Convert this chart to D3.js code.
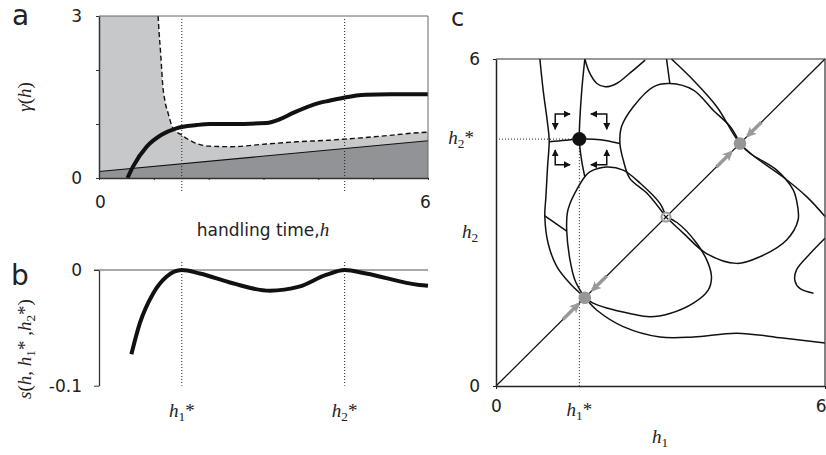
<!DOCTYPE html>
<html>
<head>
<meta charset="utf-8">
<script src="https://cdn.jsdelivr.net/npm/d3@7"></script>
<style>
  body { margin: 0; background: #fff; }
  text { font-family: "DejaVu Sans", sans-serif; fill: #222; }
  .math { font-family: "Liberation Serif", serif; }
</style>
</head>
<body>
<svg id="fig" width="826" height="455"></svg>
<script>
// ---------- panel a : gamma(h) ----------
const gammaH    = [0.52, 0.62, 0.87, 1.14, 1.41, 1.78, 2.02, 2.44, 3.05, 3.30, 3.53, 4.02, 4.20, 4.48, 4.87, 5.30, 6.00];
const gammaVals = [0.00, 0.21, 0.58, 0.80, 0.92, 0.98, 1.00, 1.00, 1.02, 1.09, 1.20, 1.39, 1.43, 1.49, 1.54, 1.55, 1.55];

const dashH    = [1.078, 1.097, 1.12, 1.14, 1.16, 1.20, 1.26, 1.35, 1.50, 1.71, 2.00, 2.40, 3.05, 3.60, 4.20, 4.48, 5.20, 5.84, 6.00];
const dashVals = [3.00, 2.68, 2.37, 2.06, 1.75, 1.44, 1.20, 0.92, 0.80, 0.67, 0.59, 0.58, 0.63, 0.67, 0.70, 0.72, 0.78, 0.84, 0.85];

const thinH    = [0, 6];
const thinVals = [0.12, 0.69];

const hStarAB = [1.51, 4.48];
const aXTicks = [0, 1, 2, 3, 4, 5, 6];
const aYTicks = [0, 1, 2, 3];
const aTickLabels = { x: [0, 6], y: [0, 3] };

// ---------- panel b : s(h, h1*, h2*) ----------
const sH    = [0.59, 0.745, 0.99, 1.23, 1.51, 1.84, 2.44, 3.11, 3.65, 4.14, 4.48, 4.87, 5.84, 6.00];
const sVals = [-0.0729, -0.046, -0.020, -0.0058, 0, -0.003, -0.0115, -0.0179, -0.0144, -0.0043, 0, -0.003, -0.013, -0.0137];
const bYTicks = [0, -0.1];

// ---------- panel c : isoclines in (h1, h2) ----------
const hStarC = [1.52, 4.53];
const cTicks = [0, 6];
const diagonal = [[0, 0], [6, 6]];
const isoLeft = [[0.80, 6.0], [0.86, 5.43], [0.94, 4.82], [0.97, 4.51], [0.94, 4.02], [0.91, 3.47], [0.89, 3.12],
  [0.95, 2.62], [1.11, 2.19], [1.35, 1.88], [1.62, 1.62], [1.84, 1.39], [2.32, 1.09], [2.99, 0.90],
  [3.60, 0.90], [4.39, 0.97], [5.23, 0.88], [6.0, 0.79]];
const isoLink = [[0.89, 3.12], [1.29, 2.84]];
const lobeUL = [[3.1, 3.1], [2.99, 3.35], [2.63, 3.72], [2.32, 3.96], [2.02, 4.02], [1.71, 3.93], [1.62, 3.84],
  [1.47, 3.60], [1.35, 3.35], [1.30, 3.17], [1.29, 2.84], [1.35, 2.31], [1.44, 1.94], [1.62, 1.62]];
const lobeLR = [[3.1, 3.1], [3.30, 3.0], [3.66, 2.62], [3.87, 2.25], [3.93, 1.98], [3.87, 1.76], [3.60, 1.52],
  [3.17, 1.33], [2.81, 1.27], [2.44, 1.33], [2.02, 1.43], [1.77, 1.52], [1.62, 1.62]];
const lobeTop = [[3.1, 3.1], [2.75, 3.54], [2.44, 3.81], [2.32, 4.15], [2.26, 4.45], [2.29, 4.76], [2.50, 5.12],
  [2.87, 5.49], [3.17, 5.55], [3.60, 5.43], [3.96, 5.06], [4.27, 4.76], [4.45, 4.45]];
const lobeRight = [[3.1, 3.1], [3.42, 2.80], [3.84, 2.43], [4.39, 2.25], [4.81, 2.37], [5.30, 2.68], [5.51, 3.05],
  [5.48, 3.41], [5.42, 3.60], [5.12, 3.96], [4.63, 4.27], [4.45, 4.45]];
const curveP = [[3.20, 6.0], [3.60, 5.61], [4.03, 5.12], [4.32, 4.64], [4.45, 4.45], [4.70, 4.22], [5.23, 3.84], [5.67, 3.47], [6.0, 3.11]];
const stemTop = [[3.11, 6.0], [3.17, 5.55]];
const stemV = [[1.62, 6.0], [1.56, 5.37], [1.52, 4.53], [1.56, 4.15], [1.62, 3.84]];
const stemH = [[0.97, 4.48], [1.26, 4.51], [1.52, 4.53], [1.90, 4.52], [2.26, 4.45]];
const dipTop = [[1.62, 6.0], [1.71, 5.74], [1.84, 5.55], [1.99, 5.49], [2.20, 5.55], [2.44, 5.74], [2.72, 5.98]];
const arcRight = [[6.0, 2.71], [5.73, 2.43], [5.48, 2.13], [5.45, 1.94], [5.54, 1.79], [5.79, 1.70]];
const isoclines = [isoLeft, isoLink, lobeUL, lobeLR, lobeTop, lobeRight, curveP, stemTop, stemV, stemH, dipTop, arcRight];

const grayDots = [1.62, 4.45];      // singular points on the diagonal
const saddle = 3.1;                  // repelling point on the diagonal
const diagArrows = [[1.22, 1.50], [2.02, 1.76], [4.02, 4.29], [4.84, 4.59]];
const bentArrows = [
  [[1.35, 4.99], [1.08, 4.99], [1.08, 4.71]],
  [[1.73, 4.99], [2.02, 4.99], [2.02, 4.71]],
  [[1.08, 4.33], [1.08, 4.06], [1.35, 4.06]],
  [[2.02, 4.33], [2.02, 4.06], [1.73, 4.06]]
];

const svg = d3.select('#fig');
svg.append('rect').attr('width', 826).attr('height', 455).attr('fill', '#fff');

// 数学标签: parts = [{t, it, sub}]
function mathText(sel, parts, size) {
  parts.forEach(p => {
    const ts = sel.append('tspan').attr('class', 'math').text(p.t);
    if (p.it) ts.style('font-style', 'italic').style('font-size', size + 'px');
    else if (p.sub) ts.style('font-size', (size * 0.7) + 'px').attr('dy', 4);
    else ts.style('font-size', size + 'px');
    if (p.after) ts.attr('dy', p.after);
  });
  return sel;
}
const hSub = (n) => [{ t: 'h', it: true }, { t: n, sub: true }, { t: '*', after: -4 }];

// markers
const defs = svg.append('defs');
defs.append('marker').attr('id', 'headGray').attr('viewBox', '0 0 10 10').attr('refX', 8).attr('refY', 5)
  .attr('markerWidth', 12).attr('markerHeight', 10).attr('markerUnits', 'userSpaceOnUse').attr('orient', 'auto')
  .append('path').attr('d', 'M0,0L10,5L0,10L2.5,5Z').attr('fill', '#999');
defs.append('marker').attr('id', 'headBlack').attr('viewBox', '0 0 10 10').attr('refX', 9).attr('refY', 5)
  .attr('markerWidth', 7).attr('markerHeight', 7).attr('markerUnits', 'userSpaceOnUse').attr('orient', 'auto-start-reverse')
  .append('path').attr('d', 'M0,0L10,5L0,10Z').attr('fill', '#111');

// ================= panel a =================
const xA = d3.scaleLinear().domain([0, 6]).range([99, 428]);
const yA = d3.scaleLinear().domain([0, 3]).range([178, 16]);
const pa = svg.append('g');

defs.append('clipPath').attr('id', 'clipA').append('rect')
  .attr('x', xA(0)).attr('y', yA(3)).attr('width', xA(6) - xA(0)).attr('height', yA(0) - yA(3));
const plotA = pa.append('g').attr('clip-path', 'url(#clipA)');

const lightData = [[0, 3]].concat(dashH.map((h, i) => [h, dashVals[i]]));
plotA.append('path').datum(lightData)
  .attr('d', d3.area().x(d => xA(d[0])).y0(yA(0)).y1(d => yA(d[1])).curve(d3.curveMonotoneX))
  .attr('fill', '#c7c8ca');

const thinData = thinH.map((h, i) => [h, thinVals[i]]);
plotA.append('path').datum(thinData)
  .attr('d', d3.area().x(d => xA(d[0])).y0(yA(0)).y1(d => yA(d[1])))
  .attr('fill', '#929396');
plotA.append('path').datum(thinData)
  .attr('d', d3.line().x(d => xA(d[0])).y(d => yA(d[1])))
  .attr('fill', 'none').attr('stroke', '#111').attr('stroke-width', 1.2);

plotA.append('path').datum(dashH.map((h, i) => [h, dashVals[i]]))
  .attr('d', d3.line().x(d => xA(d[0])).y(d => yA(d[1])).curve(d3.curveMonotoneX))
  .attr('fill', 'none').attr('stroke', '#111').attr('stroke-width', 1.4).attr('stroke-dasharray', '5,3');

// dotted verticals
pa.selectAll('.vA').data(hStarAB).enter().append('line')
  .attr('x1', d => xA(d)).attr('x2', d => xA(d)).attr('y1', yA(3) + 3).attr('y2', yA(0) + 15)
  .attr('stroke', '#222').attr('stroke-width', 1).attr('stroke-dasharray', '1,2');

plotA.append('path').datum(gammaH.map((h, i) => [h, gammaVals[i]]))
  .attr('d', d3.line().x(d => xA(d[0])).y(d => yA(d[1])).curve(d3.curveMonotoneX))
  .attr('fill', 'none').attr('stroke', '#111').attr('stroke-width', 4);

// frame
pa.append('path').attr('d', `M${xA(0)},${yA(3)}H${xA(6)}V${yA(0)}`)
  .attr('fill', 'none').attr('stroke', '#666').attr('stroke-width', 1);

const axA = pa.append('g').attr('transform', `translate(0,${yA(0)})`)
  .call(d3.axisBottom(xA).tickValues(aXTicks).tickSize(2).tickSizeOuter(0).tickPadding(16)
    .tickFormat(d => aTickLabels.x.includes(d) ? d : ''));
const ayA = pa.append('g').attr('transform', `translate(${xA(0)},0)`)
  .call(d3.axisLeft(yA).tickValues(aYTicks).tickSize(3).tickSizeOuter(0).tickPadding(14)
    .tickFormat(d => aTickLabels.y.includes(d) ? d : ''));
[axA, ayA].forEach(g => {
  g.select('.domain').attr('stroke', '#333').attr('stroke-width', 1.5);
  g.selectAll('.tick line').attr('stroke', '#333');
  g.selectAll('.tick text').style('font-family', '"DejaVu Sans", sans-serif').style('font-size', '17px').attr('fill', '#222');
});
axA.selectAll('.tick text').attr('dx', d => d === 6 ? -3 : 1);

pa.append('text').attr('x', 263).attr('y', 236).attr('text-anchor', 'middle').style('font-size', '17px')
  .call(s => { s.append('tspan').text('handling time,'); s.append('tspan').attr('class', 'math').style('font-style', 'italic').style('font-size', '19px').text('h'); });
mathText(pa.append('text').attr('transform', 'translate(31,97) rotate(-90)').attr('text-anchor', 'middle'),
  [{ t: 'γ', it: true }, { t: '(' }, { t: 'h', it: true }, { t: ')' }], 19);
pa.append('text').attr('x', 12).attr('y', 25).style('font-size', '28px').text('a');

// ================= panel b =================
const yB = d3.scaleLinear().domain([-0.1, 0]).range([385.7, 270]);
const pb = svg.append('g');

pb.selectAll('.vB').data(hStarAB).enter().append('line')
  .attr('x1', d => xA(d)).attr('x2', d => xA(d)).attr('y1', yB(0) - 8).attr('y2', yB(-0.1))
  .attr('stroke', '#222').attr('stroke-width', 1).attr('stroke-dasharray', '1,2');

pb.append('line').attr('x1', xA(0) - 5).attr('x2', xA(6)).attr('y1', yB(0)).attr('y2', yB(0))
  .attr('stroke', '#555').attr('stroke-width', 1.2);
const ayB = pb.append('g').attr('transform', `translate(${xA(0)},0)`)
  .call(d3.axisLeft(yB).tickValues(bYTicks).tickSize(5).tickSizeOuter(0).tickPadding(12)
    .tickFormat(d => d === 0 ? '0' : '-0.1'));
ayB.select('.domain').attr('stroke', '#333').attr('stroke-width', 1.3);
ayB.selectAll('.tick line').attr('stroke', '#333');
ayB.selectAll('.tick text').style('font-family', '"DejaVu Sans", sans-serif').style('font-size', '17px').attr('fill', '#222');

pb.append('path').datum(sH.map((h, i) => [h, sVals[i]]))
  .attr('d', d3.line().x(d => xA(d[0])).y(d => yB(d[1])).curve(d3.curveMonotoneX))
  .attr('fill', 'none').attr('stroke', '#111').attr('stroke-width', 4);

hStarAB.forEach((h, i) => {
  mathText(pb.append('text').attr('x', xA(h)).attr('y', 416.5).attr('text-anchor', 'middle'), hSub(String(i + 1)), 19);
});
mathText(pb.append('text').attr('transform', 'translate(31,349) rotate(-90)').attr('text-anchor', 'middle'),
  [{ t: 's', it: true }, { t: '(' }, { t: 'h', it: true }, { t: ', ' }].concat(hSub('1'))
    .concat([{ t: ' ,' }]).concat(hSub('2')).concat([{ t: ')' }]), 19);
pb.append('text').attr('x', 11).attr('y', 285).style('font-size', '28px').text('b');

// ================= panel c =================
const xC = d3.scaleLinear().domain([0, 6]).range([496, 825]);
const yC = d3.scaleLinear().domain([0, 6]).range([386, 59]);
const pc = svg.append('g');

// dotted guides to h1*, h2*
pc.append('line').attr('x1', xC(0)).attr('x2', xC(hStarC[0])).attr('y1', yC(hStarC[1])).attr('y2', yC(hStarC[1]))
  .attr('stroke', '#222').attr('stroke-dasharray', '1,2');
pc.append('line').attr('x1', xC(hStarC[0])).attr('x2', xC(hStarC[0])).attr('y1', yC(hStarC[1])).attr('y2', yC(0))
  .attr('stroke', '#222').attr('stroke-dasharray', '1,2');

const isoLine = d3.line().x(d => xC(d[0])).y(d => yC(d[1])).curve(d3.curveCatmullRom.alpha(0.5));
pc.append('path').datum(diagonal).attr('d', d3.line().x(d => xC(d[0])).y(d => yC(d[1])))
  .attr('stroke', '#111').attr('stroke-width', 1.3).attr('fill', 'none');
pc.selectAll('.iso').data(isoclines).enter().append('path')
  .attr('d', isoLine).attr('fill', 'none').attr('stroke', '#111').attr('stroke-width', 1.5);

// frame and axes
pc.append('path').attr('d', `M${xC(0)},${yC(6)}H${xC(6)}V${yC(0)}`)
  .attr('fill', 'none').attr('stroke', '#333').attr('stroke-width', 1.2);
const axC = pc.append('g').attr('transform', `translate(0,${yC(0)})`)
  .call(d3.axisBottom(xC).tickValues(cTicks).tickSize(3).tickSizeOuter(0).tickPadding(11).tickFormat(d3.format('d')));
const ayC = pc.append('g').attr('transform', `translate(${xC(0)},0)`)
  .call(d3.axisLeft(yC).tickValues(cTicks).tickSize(3).tickSizeOuter(0).tickPadding(13).tickFormat(d3.format('d')));
[axC, ayC].forEach(g => {
  g.select('.domain').attr('stroke', '#222').attr('stroke-width', 1.5);
  g.selectAll('.tick line').attr('stroke', '#222');
  g.selectAll('.tick text').style('font-family', '"DejaVu Sans", sans-serif').style('font-size', '17px').attr('fill', '#222');
});
// keep the last "6" inside the page edge
axC.selectAll('.tick text').filter(d => d === 6).attr('text-anchor', 'end').attr('dx', 1);

// gray arrows along the diagonal
pc.selectAll('.garrow').data(diagArrows).enter().append('line')
  .attr('x1', d => xC(d[0])).attr('y1', d => yC(d[0])).attr('x2', d => xC(d[1])).attr('y2', d => yC(d[1]))
  .attr('stroke', '#999').attr('stroke-width', 3.5).attr('marker-end', 'url(#headGray)');

// bent black arrows round the attractor
pc.selectAll('.barrow').data(bentArrows).enter().append('path')
  .attr('d', d => d3.line().x(p => xC(p[0])).y(p => yC(p[1]))(d))
  .attr('fill', 'none').attr('stroke', '#111').attr('stroke-width', 1.5)
  .attr('marker-start', 'url(#headBlack)').attr('marker-end', 'url(#headBlack)');

pc.selectAll('.gdot').data(grayDots).enter().append('circle')
  .attr('cx', d => xC(d)).attr('cy', d => yC(d)).attr('r', 6.3).attr('fill', '#969696');
pc.append('circle').attr('cx', xC(saddle)).attr('cy', yC(saddle)).attr('r', 4.5)
  .attr('fill', '#fff').attr('stroke', '#999').attr('stroke-width', 2);
pc.append('path').attr('d', d3.symbol(d3.symbolX, 14)())
  .attr('transform', `translate(${xC(saddle)},${yC(saddle)})`).attr('stroke', '#111').attr('stroke-width', 1.4);
pc.append('circle').attr('cx', xC(hStarC[0])).attr('cy', yC(hStarC[1])).attr('r', 7).attr('fill', '#111');

// labels
mathText(pc.append('text').attr('x', xC(hStarC[0])).attr('y', 416).attr('text-anchor', 'middle'), hSub('1'), 19);
mathText(pc.append('text').attr('x', 474).attr('y', yC(hStarC[1]) + 5).attr('text-anchor', 'end'), hSub('2'), 19);
mathText(pc.append('text').attr('x', 470).attr('y', 238).attr('text-anchor', 'middle'), [{ t: 'h', it: true }, { t: '2', sub: true }], 19);
mathText(pc.append('text').attr('x', 660).attr('y', 443).attr('text-anchor', 'middle'), [{ t: 'h', it: true }, { t: '1', sub: true }], 19);
pc.append('text').attr('x', 451).attr('y', 26).style('font-size', '24px').text('c');
</script>
</body>
</html>
